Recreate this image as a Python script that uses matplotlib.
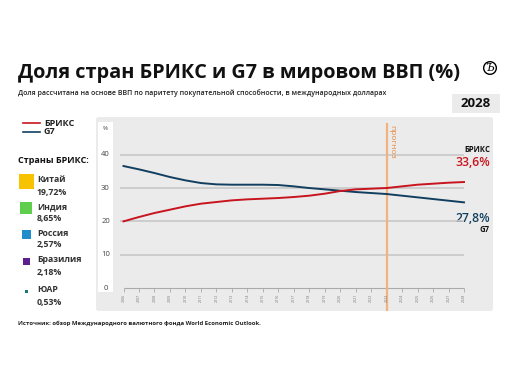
import numpy as np
import matplotlib.pyplot as plt
from matplotlib.patches import FancyBboxPatch, Rectangle

plt.rcParams['font.family'] = ['Open Sans', 'DejaVu Sans']

# Данные
years = list(range(2006, 2029))
brics = [20.0, 21.3, 22.5, 23.5, 24.5, 25.3, 25.8, 26.3, 26.6, 26.8, 27.0, 27.3,
         27.7, 28.3, 29.1, 29.6, 29.8, 30.0, 30.5, 31.0, 31.3, 31.6, 31.8]
g7 = [36.6, 35.6, 34.5, 33.3, 32.3, 31.5, 31.1, 31.0, 31.0, 31.0, 30.9, 30.5,
      30.0, 29.6, 29.2, 28.8, 28.5, 28.2, 27.7, 27.2, 26.7, 26.2, 25.7]
forecast_year = 2023
y_ticks = [0, 10, 20, 30, 40]

countries = ['Китай', 'Индия', 'Россия', 'Бразилия', 'ЮАР']
shares = ['19,72%', '8,65%', '2,57%', '2,18%', '0,53%']
country_colors = ['#f7c200', '#5fce4c', '#1f8ccc', '#5b1f8f', '#1b7a74']

RED = '#c8141e'
BLUE = '#123f5f'
W, H = 512, 384


def fx(x):
    return x / W


def fy(y):
    return 1 - y / H


fig = plt.figure(figsize=(5.12, 3.84), dpi=100)

# Заголовок
fig.text(fx(18), fy(73), 'Доля стран БРИКС и G7 в мировом ВВП (%)', fontsize=14.3,
         fontweight='bold', va='center', ha='left', color='#111111')
fig.text(fx(18), fy(93), 'Доля рассчитана на основе ВВП по паритету покупательной способности, в международных долларах',
         fontsize=5, fontweight='semibold', va='center', ha='left', color='#222222')
fig.text(fx(490), fy(68), 'Ъ', fontsize=8, family='DejaVu Serif', fontstyle='italic', ha='center', va='center',
         bbox=dict(boxstyle='circle,pad=0.12', fc='white', ec='black', lw=1.0))
fig.patches.append(Rectangle((fx(452), fy(113)), fx(48), 19 / H, transform=fig.transFigure,
                             fc='#ebebeb', ec='none'))
fig.text(fx(476), fy(103.5), '2028', fontsize=9.5, fontweight='bold', ha='center', va='center', color='#111111')

# Панель графика
fig.patches.append(FancyBboxPatch((fx(96), fy(311)), fx(397), 194 / H, transform=fig.transFigure,
                                  boxstyle='round,pad=0,rounding_size=0.006', fc='#ebebeb', ec='none'))
fig.patches.append(Rectangle((fx(98), fy(292)), fx(15), 170 / H, transform=fig.transFigure,
                             fc='white', ec='none'))

ax = fig.add_axes([fx(113), fy(311), fx(380), 194 / H])
ax.set_zorder(5)
ax.set_facecolor('none')
ppy = (464 - 123.5) / 22
ppv = (288 - 154.7) / 40
ax.set_xlim(2006 - 10.5 / ppy, 2028 + 29 / ppy)
ax.set_ylim(-23 / ppv, 171 / ppv)
ax.axis('off')

for v in y_ticks[1:]:
    ax.hlines(v, 2005.75, 2028, color='#c8c8c8', lw=1.2, zorder=1)
    ax.text(2006 - 18 / ppy, v, str(v), fontsize=5.5, ha='center', va='center', color='#444444')
ax.text(2006 - 18 / ppy, 0, '0', fontsize=5.5, ha='center', va='center', color='#444444')
ax.text(2006 - 18 / ppy, 48, '%', fontsize=4.5, ha='center', va='center', color='#444444')

ax.hlines(0, 2006, 2028, color='#aaaaaa', lw=0.8)
for yr in years:
    ax.vlines(yr, -1.2, 0, color='#aaaaaa', lw=0.6)
    ax.text(yr, -1.8, str(yr), fontsize=2.6, rotation=90, ha='center', va='top', color='#777777')

ax.axvline(forecast_year, ymin=0, ymax=(171 / ppv - 2 + 23 / ppv) / (194 / ppv),
           color='#f2b27f', lw=1.6, zorder=2)
ax.text(forecast_year + 0.35, 49, 'прогноз', rotation=270, fontsize=6, color='#e8893d',
        ha='center', va='top')

ax.plot(years, g7, color=BLUE, lw=1.4, zorder=3)
ax.plot(years, brics, color=RED, lw=1.4, zorder=4)

# Подписи справа
fig.text(fx(490), fy(150), 'БРИКС', fontsize=5.5, fontweight='bold', ha='right', va='center', color='#111111')
fig.text(fx(490), fy(162), '33,6%', fontsize=8.8, fontweight='semibold', ha='right', va='center', color=RED)
fig.text(fx(490), fy(218), '27,8%', fontsize=8.8, fontweight='semibold', ha='right', va='center', color=BLUE)
fig.text(fx(490), fy(230), 'G7', fontsize=5.5, fontweight='bold', ha='right', va='center', color='#111111')

# Легенда слева
for yy, c, lab in [(123, RED, 'БРИКС'), (132, BLUE, 'G7')]:
    fig.lines.append(plt.Line2D([fx(23), fx(40)], [fy(yy), fy(yy)], transform=fig.transFigure,
                                color=c, lw=1.2))
    fig.text(fx(44), fy(yy), lab, fontsize=6.5, fontweight='bold', ha='left', va='center', color='#222222')

fig.text(fx(18), fy(160), 'Страны БРИКС:', fontsize=6.5, fontweight='bold', ha='left', va='center', color='#111111')

sq_sizes = [15, 12, 9, 7, 3]
sq_cy = [181, 208, 234, 261, 291]
for i, name in enumerate(countries):
    s = sq_sizes[i]
    cx = 26
    cy = sq_cy[i]
    fig.patches.append(Rectangle((fx(cx - s / 2), fy(cy + s / 2)), s / W, s / H,
                                 transform=fig.transFigure, fc=country_colors[i], ec='none'))
    fig.text(fx(37), fy(cy - 1), name, fontsize=6.3, fontweight='bold', ha='left', va='center', color='#333333')
    fig.text(fx(37), fy(cy + 11), shares[i], fontsize=6.3, fontweight='bold', ha='left', va='center', color='#333333')

fig.text(fx(18), fy(323), 'Источник: обзор Международного валютного фонда World Economic Outlook.',
         fontsize=4.3, fontweight='bold', ha='left', va='center', color='#222222')

fig.savefig('out.png', dpi=100)
